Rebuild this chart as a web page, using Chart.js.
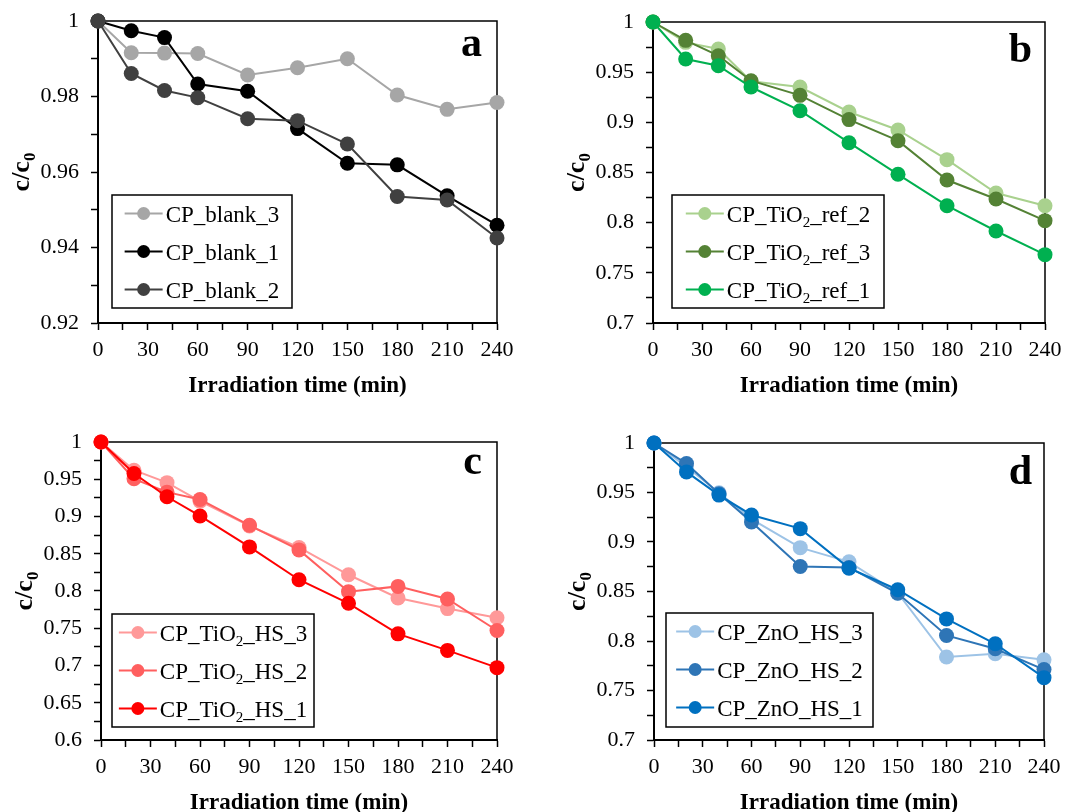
<!DOCTYPE html>
<html>
<head>
<meta charset="utf-8">
<script src="https://cdn.jsdelivr.net/npm/chart.js@4/dist/chart.umd.min.js"></script>
<style>
  html, body { margin: 0; padding: 0; background: #fff; }
  #wrap { position: relative; width: 1071px; height: 812px; overflow: hidden; }
  canvas { position: absolute; }
</style>
</head>
<body>
<div id="wrap">
  <canvas id="pa" width="535" height="405" style="left:0px;top:0px"></canvas>
  <canvas id="pb" width="536" height="405" style="left:535px;top:0px"></canvas>
  <canvas id="pc" width="535" height="407" style="left:0px;top:405px"></canvas>
  <canvas id="pd" width="536" height="407" style="left:535px;top:405px"></canvas>
</div>
<script>
// Sampling times (min)
const times = [0, 20, 40, 60, 90, 120, 150, 180, 210, 240];
const xTickLabels = [0, 30, 60, 90, 120, 150, 180, 210, 240];

// Panel a: blank runs
const blankLabels = ['CP_blank_3', 'CP_blank_1', 'CP_blank_2'];
const blank3 = [1, 0.9916, 0.9915, 0.9914, 0.9857, 0.9876, 0.9900, 0.9804, 0.9766, 0.9784];
const blank1 = [1, 0.9974, 0.9956, 0.9833, 0.9814, 0.9715, 0.9623, 0.9619, 0.9537, 0.9459];
const blank2 = [1, 0.9861, 0.9816, 0.9797, 0.9741, 0.9736, 0.9674, 0.9535, 0.9526, 0.9425];

// Panel b: TiO2 reference
const refLabels = ['CP_TiO2_ref_2', 'CP_TiO2_ref_3', 'CP_TiO2_ref_1'];
const ref2 = [1, 0.9797, 0.9731, 0.9410, 0.9352, 0.9103, 0.8924, 0.8628, 0.8296, 0.8169];
const ref3 = [1, 0.9817, 0.9664, 0.9415, 0.9269, 0.9027, 0.8817, 0.8425, 0.8236, 0.8020];
const ref1 = [1, 0.9631, 0.9565, 0.9352, 0.9116, 0.8797, 0.8482, 0.8169, 0.7917, 0.7681];

// Panel c: TiO2 HS
const tiHsLabels = ['CP_TiO2_HS_3', 'CP_TiO2_HS_2', 'CP_TiO2_HS_1'];
const tiHs3 = [1, 0.9621, 0.9454, 0.9207, 0.8874, 0.8584, 0.8218, 0.7906, 0.7764, 0.7640];
const tiHs2 = [1, 0.9506, 0.9327, 0.9229, 0.8882, 0.8552, 0.7991, 0.8062, 0.7893, 0.7470];
const tiHs1 = [1, 0.9577, 0.9265, 0.9007, 0.8592, 0.8151, 0.7835, 0.7425, 0.7203, 0.6971];

// Panel d: ZnO HS
const znHsLabels = ['CP_ZnO_HS_3', 'CP_ZnO_HS_2', 'CP_ZnO_HS_1'];
const znHs3 = [1, 0.9760, 0.9497, 0.9230, 0.8943, 0.8800, 0.8485, 0.7838, 0.7871, 0.7811];
const znHs2 = [1, 0.9792, 0.9487, 0.9202, 0.8753, 0.8743, 0.8482, 0.8056, 0.7922, 0.7711];
const znHs1 = [1, 0.9708, 0.9474, 0.9273, 0.9135, 0.8736, 0.8518, 0.8223, 0.7972, 0.7630];

const SERIF = '"Liberation Serif", "Times New Roman", serif';
Chart.defaults.font.family = SERIF;
Chart.defaults.color = '#000';

// Draws a label where the digit after "TiO" is a subscript
function drawRich(ctx, text, x, y, size, bold) {
  const parts = text.split(/(?<=TiO)(2)/);
  let cx = x;
  parts.forEach((p, i) => {
    const sub = i % 2 === 1;
    const fs = sub ? Math.round(size * 0.65) : size;
    ctx.font = (bold ? 'bold ' : '') + fs + 'px ' + SERIF;
    ctx.fillText(p, cx, y + (sub ? size * 0.22 : 0));
    cx += ctx.measureText(p).width;
  });
  return cx - x;
}
function measureRich(ctx, text, size) {
  const parts = text.split(/(?<=TiO)(2)/);
  let w = 0;
  parts.forEach((p, i) => {
    const fs = i % 2 === 1 ? Math.round(size * 0.65) : size;
    ctx.font = fs + 'px ' + SERIF;
    w += ctx.measureText(p).width;
  });
  return w;
}

// Frame, axis titles, panel letter and boxed legend
const panelDecor = {
  id: 'panelDecor',
  beforeDatasetsDraw(chart) {
    const { ctx, chartArea: a } = chart;
    ctx.save();
    ctx.strokeStyle = '#000';
    ctx.lineWidth = 1.5;
    ctx.beginPath();
    ctx.moveTo(a.left, a.top);
    ctx.lineTo(a.right, a.top);
    ctx.lineTo(a.right, a.bottom);
    ctx.stroke();
    ctx.restore();
  },
  afterDatasetsDraw(chart, args, opts) {
    const { ctx } = chart;
    const box = opts.legendBox;
    ctx.save();
    ctx.fillStyle = '#fff';
    ctx.fillRect(box.x, box.y, box.w, box.h);
    ctx.strokeStyle = '#000';
    ctx.lineWidth = 1.5;
    ctx.strokeRect(box.x, box.y, box.w, box.h);
    const sampleLen = 38, gap = 3, fs = 23;
    const items = chart.data.datasets;
    let maxW = 0;
    items.forEach(d => { maxW = Math.max(maxW, measureRich(ctx, d.label, fs)); });
    const contentW = sampleLen + gap + maxW;
    const x0 = box.x + (box.w - contentW) / 2;
    items.forEach((d, i) => {
      const cy = box.y + 18.5 + i * 38;
      ctx.strokeStyle = d.borderColor;
      ctx.lineWidth = 2;
      ctx.beginPath();
      ctx.moveTo(x0, cy);
      ctx.lineTo(x0 + sampleLen, cy);
      ctx.stroke();
      ctx.fillStyle = d.borderColor;
      ctx.beginPath();
      ctx.arc(x0 + sampleLen / 2, cy, 6.5, 0, Math.PI * 2);
      ctx.fill();
      ctx.fillStyle = '#000';
      ctx.textBaseline = 'alphabetic';
      ctx.textAlign = 'left';
      drawRich(ctx, d.label, x0 + sampleLen + gap, cy + 8, fs, false);
    });
    ctx.restore();
  },
  afterDraw(chart, args, opts) {
    const { ctx, chartArea: a } = chart;
    ctx.save();
    ctx.fillStyle = '#000';
    // x-axis title
    ctx.font = 'bold 23px ' + SERIF;
    ctx.textAlign = 'center';
    ctx.textBaseline = 'alphabetic';
    ctx.fillText('Irradiation time (min)', (a.left + a.right) / 2, a.bottom + 69);
    // y-axis title c/c0
    ctx.translate(a.left - 69, (a.top + a.bottom) / 2);
    ctx.rotate(-Math.PI / 2);
    ctx.font = 'bold 26px ' + SERIF;
    const w1 = ctx.measureText('c/c').width;
    ctx.font = 'bold 17px ' + SERIF;
    const w2 = ctx.measureText('0').width;
    const sx = -(w1 + w2) / 2;
    ctx.textAlign = 'left';
    ctx.font = 'bold 26px ' + SERIF;
    ctx.fillText('c/c', sx, 0);
    ctx.font = 'bold 17px ' + SERIF;
    ctx.fillText('0', sx + w1, 6);
    ctx.restore();
    // panel letter
    ctx.save();
    ctx.fillStyle = '#000';
    ctx.font = 'bold 42px ' + SERIF;
    ctx.textAlign = 'right';
    ctx.textBaseline = 'alphabetic';
    ctx.fillText(opts.letter, a.right - opts.letterDx, a.top + opts.letterDy);
    ctx.restore();
  }
};

function makeSeries(labels, valueLists, colors) {
  return labels.map((lab, i) => ({
    label: lab,
    data: times.map((t, k) => ({ x: t, y: valueLists[i][k] })),
    borderColor: colors[i],
    backgroundColor: colors[i],
    pointBackgroundColor: colors[i],
    pointBorderColor: colors[i],
    pointBorderWidth: 0,
    pointRadius: 7.5,
    borderWidth: 2,
    tension: 0,
    clip: false,
    order: labels.length - i
  }));
}

function makeChart(id, cfg) {
  const canvas = document.getElementById(id);
  const tickFont = { family: SERIF, size: 22 };
  return new Chart(canvas, {
    type: 'line',
    data: { datasets: makeSeries(cfg.labels, cfg.values, cfg.colors) },
    options: {
      responsive: false,
      animation: false,
      devicePixelRatio: 1,
      layout: { autoPadding: false, padding: { left: 0, top: cfg.padTop, right: cfg.padRight, bottom: 0 } },
      plugins: {
        legend: { display: false },
        tooltip: { enabled: false },
        panelDecor: { letter: cfg.letter, letterDx: cfg.letterDx, letterDy: cfg.letterDy, legendBox: cfg.legendBox }
      },
      scales: {
        x: {
          type: 'linear',
          min: 0, max: 240,
          afterFit(s) { s.height = cfg.xHeight; s.paddingLeft = 0; s.paddingRight = 0; },
          ticks: {
            stepSize: 15, autoSkip: false, maxRotation: 0, padding: 7,
            font: tickFont, color: '#000',
            callback: v => (xTickLabels.includes(v) ? String(v) : '')
          },
          grid: { drawOnChartArea: false, drawTicks: true, tickLength: 7, tickWidth: 1.5, tickColor: '#000' },
          border: { display: true, color: '#000', width: 2 }
        },
        y: {
          min: cfg.yMin, max: 1,
          afterFit(s) { s.width = cfg.yWidth; s.paddingTop = 0; s.paddingBottom = 0; },
          ticks: {
            stepSize: cfg.yMinor, autoSkip: false, padding: 12,
            font: tickFont, color: '#000',
            callback: v => {
              const k = Math.round(v * 1000);
              const m = Math.round(cfg.yMajor * 1000);
              return k % m === 0 ? String(parseFloat(v.toFixed(3))) : '';
            }
          },
          grid: { drawOnChartArea: false, drawTicks: true, tickLength: 7, tickWidth: 1.5, tickColor: '#000' },
          border: { display: true, color: '#000', width: 2 }
        }
      }
    },
    plugins: [panelDecor]
  });
}

makeChart('pa', {
  labels: blankLabels, values: [blank3, blank1, blank2],
  colors: ['#a6a6a6', '#000000', '#404040'],
  yMin: 0.92, yMinor: 0.01, yMajor: 0.02,
  padTop: 21, padRight: 38, yWidth: 98, xHeight: 82,
  letter: 'a', letterDx: 15, letterDy: 35,
  legendBox: { x: 112, y: 195, w: 180, h: 113 }
});
makeChart('pb', {
  labels: refLabels, values: [ref2, ref3, ref1],
  colors: ['#a9d18e', '#548235', '#00b050'],
  yMin: 0.7, yMinor: 0.025, yMajor: 0.05,
  padTop: 22, padRight: 26, yWidth: 118, xHeight: 82,
  letter: 'b', letterDx: 13, letterDy: 40,
  legendBox: { x: 137, y: 195, w: 212, h: 113 }
});
makeChart('pc', {
  labels: tiHsLabels, values: [tiHs3, tiHs2, tiHs1],
  colors: ['#ff9999', '#ff5f5f', '#ff0000'],
  yMin: 0.6, yMinor: 0.025, yMajor: 0.05,
  padTop: 37, padRight: 38, yWidth: 101, xHeight: 72,
  letter: 'c', letterDx: 15, letterDy: 32,
  legendBox: { x: 112, y: 209, w: 202, h: 113 }
});
makeChart('pd', {
  labels: znHsLabels, values: [znHs3, znHs2, znHs1],
  colors: ['#9dc3e6', '#2e75b6', '#0070c0'],
  yMin: 0.7, yMinor: 0.025, yMajor: 0.05,
  padTop: 38, padRight: 27, yWidth: 119, xHeight: 72,
  letter: 'd', letterDx: 12, letterDy: 41,
  legendBox: { x: 131, y: 208, w: 207, h: 114 }
});
</script>
</body>
</html>
